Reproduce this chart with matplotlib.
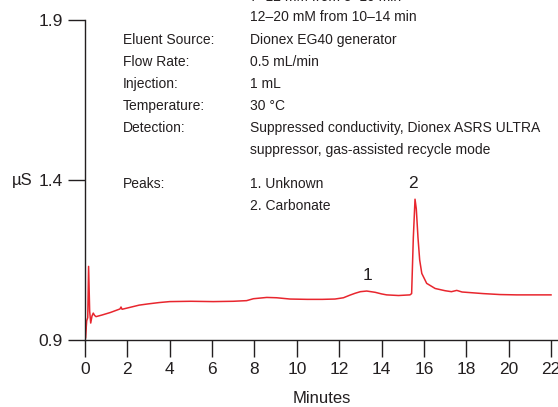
import matplotlib
matplotlib.use('Agg')
import matplotlib.pyplot as plt

plt.rcParams['font.family'] = ['Liberation Sans', 'DejaVu Sans']

# Хроматограмма (минуты, мкСм)
minutes = [0.0, 0.02, 0.08, 0.13, 0.17, 0.22, 0.27, 0.33, 0.39, 0.45,
           0.52, 0.8, 1.2, 1.65, 1.7, 1.75, 2.0, 2.56, 3.0, 3.5,
           4.0, 5.0, 6.05, 7.0, 7.63, 7.95, 8.58, 9.05, 9.68, 10.5,
           11.2, 11.8, 12.2, 12.5, 12.75, 13.0, 13.3, 13.7, 14.0, 14.24,
           14.8, 15.34, 15.42, 15.5, 15.58, 15.64, 15.72, 15.8, 15.9, 16.13,
           16.53, 17.0, 17.3, 17.55, 17.8, 18.8, 19.6, 20.38, 21.2, 22.0]
signal = [1.03, 0.905, 0.96, 0.97, 1.13, 0.99, 0.953, 0.975, 0.984, 0.977,
          0.973, 0.978, 0.986, 0.997, 1.003, 0.996, 1.0, 1.009, 1.013, 1.017,
          1.020, 1.021, 1.020, 1.021, 1.023, 1.029, 1.033, 1.032, 1.028, 1.027,
          1.027, 1.028, 1.032, 1.040, 1.046, 1.051, 1.053, 1.049, 1.044, 1.041,
          1.039, 1.041, 1.045, 1.22, 1.34, 1.31, 1.22, 1.15, 1.108, 1.077,
          1.061, 1.054, 1.051, 1.055, 1.050, 1.045, 1.042, 1.041, 1.041, 1.041]

peak_labels = ['1', '2']
peak_pos = [(13.36, 1.103), (15.5, 1.39)]

x_ticks = list(range(0, 23, 2))
y_ticks = [0.9, 1.4, 1.9]

# Текст условий: (y, подпись, значение)
cond_y = [1.972, 1.909, 1.8375, 1.769, 1.70, 1.631, 1.5625, 1.494, 1.3875, 1.319]
cond_left = ['', '', 'Eluent Source:', 'Flow Rate:', 'Injection:', 'Temperature:',
             'Detection:', '', 'Peaks:', '']
cond_right = ['7–12 mM from 5–10 min', '12–20 mM from 10–14 min',
              'Dionex EG40 generator', '0.5 mL/min', '1 mL', '30 °C',
              'Suppressed conductivity, Dionex ASRS ULTRA',
              'suppressor, gas-assisted recycle mode',
              '1. Unknown', '2. Carbonate']

dark = '#231f20'
fig = plt.figure(figsize=(5.58, 4.07), dpi=100)
ax = fig.add_axes([85 / 558, 67 / 407, 473 / 558, 320 / 407])

ax.plot(minutes, signal, color='#e8262e', lw=1.1)

ax.set_xlim(0, 22.33)
ax.set_ylim(0.9, 1.9)
ax.set_xticks(x_ticks)
ax.set_yticks(y_ticks)
ax.set_yticklabels(['0.9', '1.4', '1.9'])
for s in ['top', 'right']:
    ax.spines[s].set_visible(False)
for s in ['left', 'bottom']:
    ax.spines[s].set_color(dark)
    ax.spines[s].set_linewidth(1.0)
ax.tick_params(direction='out', length=12, width=1.0, color=dark,
               labelsize=12.5, labelcolor=dark)
ax.tick_params(axis='y', pad=4)
ax.tick_params(axis='x', pad=4)

ax.set_xlabel('Minutes', fontsize=12, color=dark, labelpad=10)
fig.text(22 / 558, 1 - 180 / 407, 'µS', fontsize=12, color=dark,
         ha='center', va='center')

for lab, (px, py) in zip(peak_labels, peak_pos):
    ax.text(px, py, lab, fontsize=12.5, color=dark, ha='center', va='center')

for y, l, r in zip(cond_y, cond_left, cond_right):
    ax.text(1.79, y, l, fontsize=10, color=dark, va='center', clip_on=False)
    ax.text(7.79, y, r, fontsize=10, color=dark, va='center', clip_on=False)

fig.savefig('out.png', dpi=100)
